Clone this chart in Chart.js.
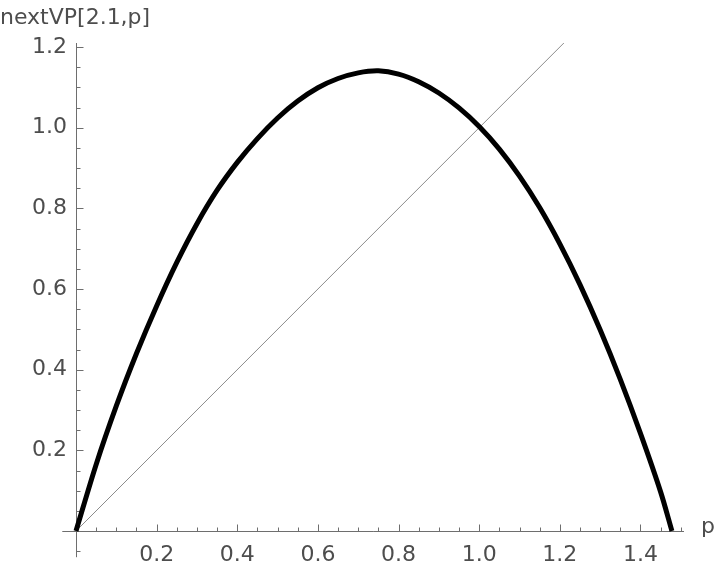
<!DOCTYPE html>
<html>
<head>
<meta charset="utf-8">
<script src="https://cdn.jsdelivr.net/npm/chart.js@4.4.1/dist/chart.umd.min.js"></script>
<style>
  body { margin: 0; background: #fff; }
  canvas { display: block; }
</style>
</head>
<body>
<canvas id="myChart" width="720" height="569"></canvas>
<script>
// values
const pValues = [0, 0.05, 0.10, 0.15, 0.20, 0.25, 0.30, 0.35, 0.40, 0.45, 0.50, 0.55, 0.60, 0.65, 0.70,
  0.75, 0.80, 0.85, 0.90, 0.95, 1.00, 1.05, 1.10, 1.15, 1.20, 1.25, 1.30, 1.35, 1.40, 1.45, 1.478];
const nextValues = [0, 0.165, 0.31, 0.44, 0.558, 0.666, 0.762, 0.845, 0.914, 0.973, 1.024, 1.066, 1.099, 1.122, 1.136,
  1.141, 1.133, 1.114, 1.086, 1.049, 1.003, 0.947, 0.880, 0.802, 0.712, 0.611, 0.499, 0.376, 0.242, 0.097, 0];
const diagonalEnds = [0, 1.21];

const xTicks = [0.2, 0.4, 0.6, 0.8, 1.0, 1.2, 1.4];
const yTicks = [0.2, 0.4, 0.6, 0.8, 1.0, 1.2];

const yLabel = 'nextVP[2.1,p]';
const xLabel = 'p';

const fontFamily = '"DejaVu Sans", sans-serif';
const textColor = '#4d4d4d';
const axisColor = '#6e6e6e';

function points(xs, ys) {
  let pts = [];
  xs.forEach((x, i) => {
    pts.push({ x: x, y: ys[i] });
  });
  return pts;
}

// Mathematica style axes through the origin, ticks pointing inwards
const axesPlugin = {
  id: 'axesPlugin',
  beforeDatasetsDraw(chart) {
    const ctx = chart.ctx;
    const xs = chart.scales.x;
    const ys = chart.scales.y;
    const x0 = Math.round(xs.getPixelForValue(0)) + 0.5;
    const y0 = Math.round(ys.getPixelForValue(0)) + 0.5;
    ctx.save();
    ctx.strokeStyle = axisColor;
    ctx.lineWidth = 1;
    ctx.beginPath();
    ctx.moveTo(xs.getPixelForValue(-0.034), y0);
    ctx.lineTo(xs.getPixelForValue(1.508), y0);
    ctx.moveTo(x0, ys.getPixelForValue(-0.065));
    ctx.lineTo(x0, ys.getPixelForValue(1.21));
    // x ticks
    for (let i = 1; i <= 30; i++) {
      const px = Math.round(xs.getPixelForValue(i * 0.05)) + 0.5;
      const len = i % 4 === 0 ? 7 : 4;
      ctx.moveTo(px, y0);
      ctx.lineTo(px, y0 - len);
    }
    // y ticks
    for (let i = -1; i <= 24; i++) {
      if (i === 0) continue;
      const py = Math.round(ys.getPixelForValue(i * 0.05)) + 0.5;
      const len = i % 4 === 0 ? 7 : 4;
      ctx.moveTo(x0, py);
      ctx.lineTo(x0 + len, py);
    }
    ctx.stroke();
    ctx.restore();
  },
  afterDraw(chart) {
    const ctx = chart.ctx;
    ctx.save();
    ctx.fillStyle = textColor;
    ctx.font = '22px ' + fontFamily;
    ctx.textBaseline = 'alphabetic';
    ctx.textAlign = 'left';
    ctx.fillText(yLabel, 0, 24);
    ctx.fillText(xLabel, 701, 533);
    ctx.restore();
  }
};

const ctx = document.getElementById('myChart');

const myChart = new Chart(ctx, {
  type: 'scatter',
  data: {
    datasets: [{
      label: 'nextVP',
      data: points(pValues, nextValues),
      showLine: true,
      borderColor: '#000',
      borderWidth: 5,
      pointRadius: 0,
      tension: 0.3,
      clip: false,
      order: 0
    }, {
      label: 'diagonal',
      data: points(diagonalEnds, diagonalEnds),
      showLine: true,
      borderColor: '#8c8c8c',
      borderWidth: 1,
      pointRadius: 0,
      clip: false,
      order: 1
    }]
  },
  options: {
    responsive: false,
    animation: false,
    devicePixelRatio: 1,
    layout: { padding: { top: 43, right: 36, left: 0, bottom: 0 } },
    plugins: {
      legend: { display: false },
      tooltip: { enabled: false }
    },
    scales: {
      x: {
        type: 'linear',
        position: 'bottom',
        min: 0,
        max: 1.508,
        grid: { display: false, drawTicks: false },
        border: { display: false },
        afterBuildTicks: scale => { scale.ticks = xTicks.map(v => ({ value: v })); },
        afterFit: scale => { scale.height = 38; },
        ticks: {
          padding: 11,
          maxRotation: 0,
          color: textColor,
          font: { family: fontFamily, size: 22 },
          callback: v => v.toFixed(1)
        }
      },
      y: {
        type: 'linear',
        position: 'left',
        min: 0,
        max: 1.21,
        grid: { display: false, drawTicks: false },
        border: { display: false },
        afterBuildTicks: scale => { scale.ticks = yTicks.map(v => ({ value: v })); },
        afterFit: scale => { scale.width = 76; },
        ticks: {
          padding: 9,
          color: textColor,
          font: { family: fontFamily, size: 22 },
          callback: v => v.toFixed(1)
        }
      }
    }
  },
  plugins: [axesPlugin]
});
</script>
</body>
</html>
